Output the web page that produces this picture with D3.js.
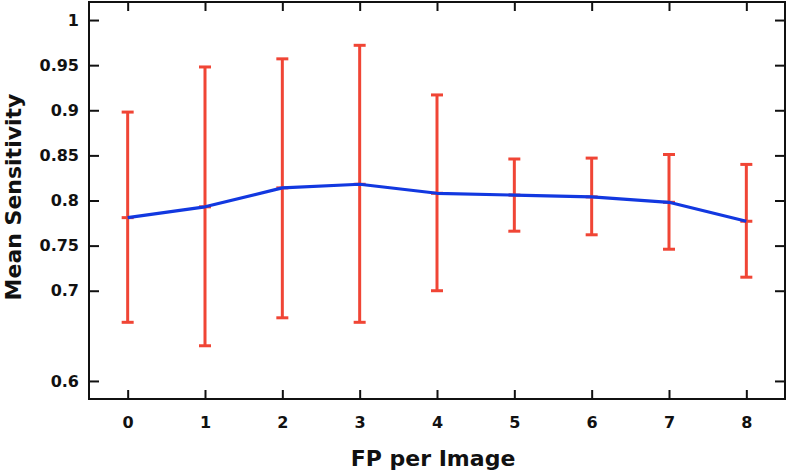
<!DOCTYPE html>
<html><head><meta charset="utf-8">
<script src="https://cdn.jsdelivr.net/npm/d3@7"></script>
<style>body{margin:0;background:#fff}svg{display:block}text{font-family:"DejaVu Sans",Verdana,sans-serif;font-weight:bold;fill:#111}</style>
</head><body>
<svg id="c" width="788" height="471"></svg>
<script>
const fpPerImage = [0,1,2,3,4,5,6,7,8];
const meanSens = [0.781,0.793,0.814,0.818,0.808,0.806,0.804,0.798,0.777];
const upperSens = [0.898,0.948,0.957,0.972,0.917,0.846,0.847,0.851,0.840];
const lowerSens = [0.665,0.639,0.670,0.665,0.700,0.766,0.762,0.746,0.715];
const yTicks = [0.6,0.7,0.75,0.8,0.85,0.9,0.95,1];
const xTicks = [0,1,2,3,4,5,6,7,8];

const svg = d3.select("#c");
const L=89,R=785,T=2,B=399;
const x = d3.scaleLinear().domain([-0.5,8.5]).range([L,R]);
const y = d3.scaleLinear().domain([0.58,1.02]).range([B,T]);
const red="#f04535", blue="#1238e0";

const g = svg.append("g");
// error bars
fpPerImage.forEach((f,i)=>{
  g.append("line").attr("x1",x(f)).attr("x2",x(f)).attr("y1",y(lowerSens[i])).attr("y2",y(upperSens[i]))
   .attr("stroke",red).attr("stroke-width",3);
  [lowerSens[i],upperSens[i],meanSens[i]].forEach(v=>{
    g.append("line").attr("x1",x(f)-6).attr("x2",x(f)+6).attr("y1",y(v)).attr("y2",y(v))
     .attr("stroke",red).attr("stroke-width",3);
  });
});
// mean line
g.append("path").datum(fpPerImage.map((f,i)=>[f,meanSens[i]]))
 .attr("d",d3.line().x(d=>x(d[0])).y(d=>y(d[1])))
 .attr("fill","none").attr("stroke",blue).attr("stroke-width",3.2).attr("stroke-linejoin","round");

// axes
const axB = d3.axisBottom(x).tickValues(xTicks).tickSize(-9).tickPadding(18).tickFormat(d3.format("d"));
const axT = d3.axisTop(x).tickValues(xTicks).tickSize(-9).tickFormat("");
const axL = d3.axisLeft(y).tickValues(yTicks).tickSize(-10).tickPadding(10).tickFormat(d=>String(d));
const axR = d3.axisRight(y).tickValues(yTicks).tickSize(-10).tickFormat("");
function style(sel){
  sel.select(".domain").remove();
  sel.selectAll(".tick line").attr("stroke","#111").attr("stroke-width",2);
  sel.selectAll("text").attr("font-size",16).attr("font-family",null).attr("fill","#111");
}
svg.append("g").attr("transform",`translate(0,${B})`).call(axB).call(style);
svg.append("g").attr("transform",`translate(0,${T})`).call(axT).call(style);
svg.append("g").attr("transform",`translate(${L},0)`).call(axL).call(style);
svg.append("g").attr("transform",`translate(${R},0)`).call(axR).call(style);
svg.append("rect").attr("x",L).attr("y",T).attr("width",R-L).attr("height",B-T)
 .attr("fill","none").attr("stroke","#111").attr("stroke-width",2);

svg.append("text").attr("x",(L+R)/2-4).attr("y",466).attr("text-anchor","middle").attr("font-size",22).text("FP per Image");
svg.append("text").attr("transform","translate(21,197) rotate(-90)").attr("text-anchor","middle").attr("font-size",22).text("Mean Sensitivity");
</script>
</body></html>
